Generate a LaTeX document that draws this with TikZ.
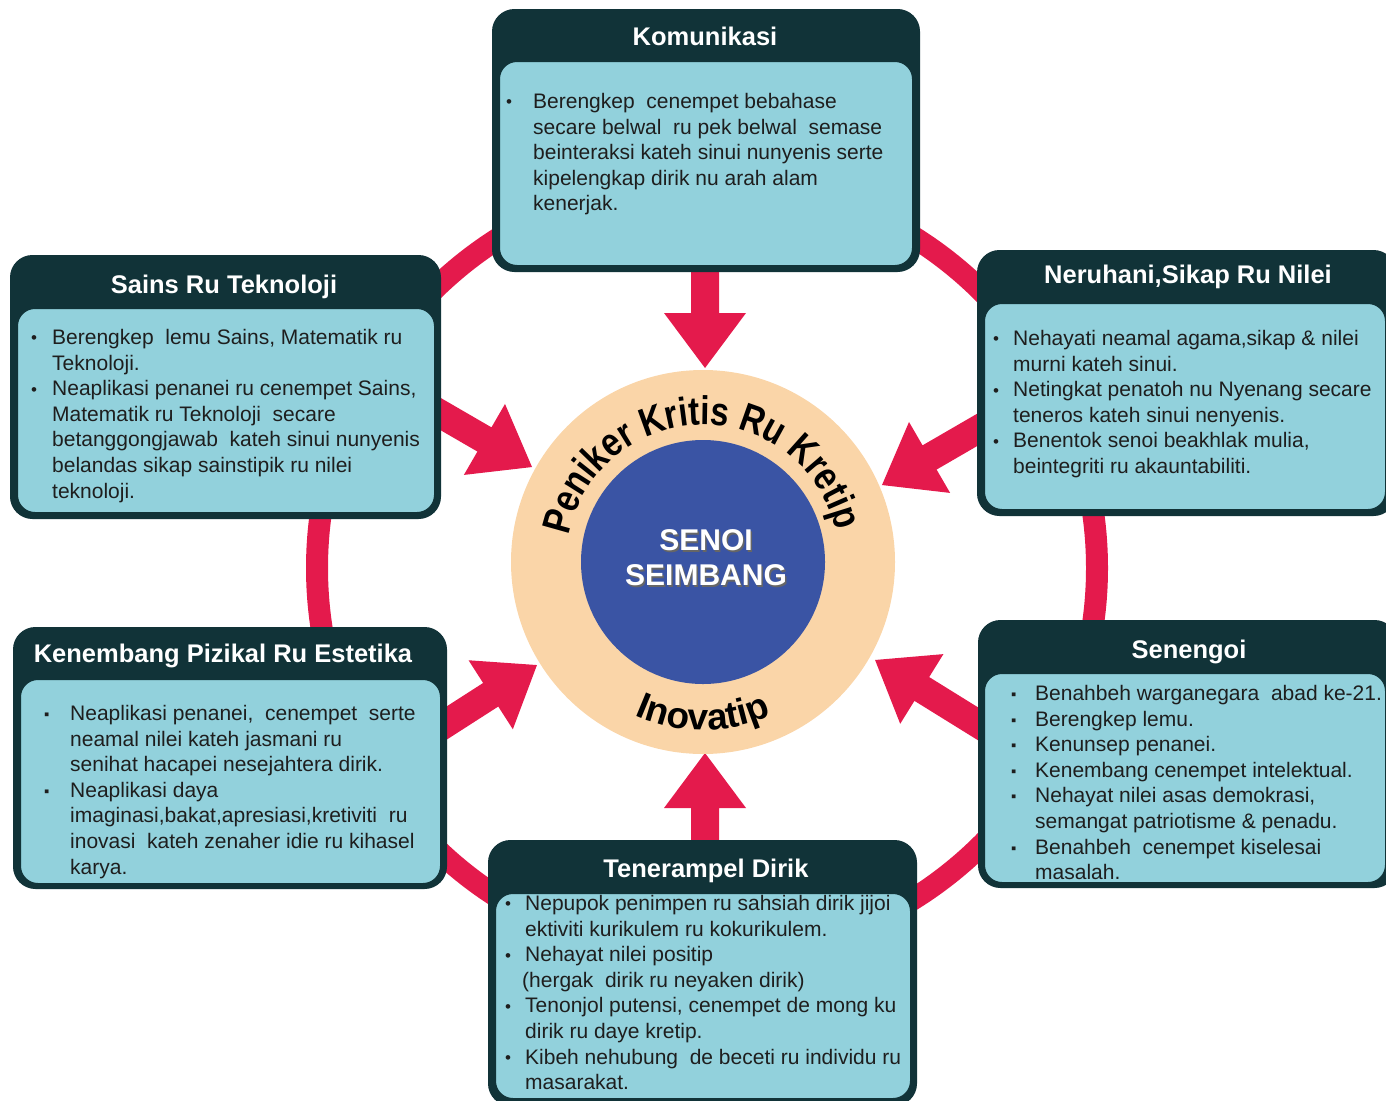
\documentclass[tikz,border=0pt]{standalone}
\usepackage{fontspec}
\setmainfont{Liberation Sans}
\newfontfamily\arcfont[FakeStretch=0.83]{Liberation Sans}
\usetikzlibrary{decorations.text}
\definecolor{dk}{RGB}{17,51,56}
\definecolor{cy}{RGB}{146,209,220}
\definecolor{arrowred}{RGB}{228,26,76}
\definecolor{peach}{RGB}{250,213,168}
\definecolor{coreblue}{RGB}{58,84,164}
\definecolor{txt}{RGB}{30,30,30}
\newcommand{\bdot}[1]{\makebox[#1][l]{\raisebox{0.5pt}{\fontsize{17}{17}\selectfont •}}}
\newcommand{\bsq}[1]{\makebox[#1][l]{\raisebox{1pt}{\fontsize{15}{15}\selectfont ▪}}}
\newcommand{\ind}[1]{\hspace*{#1}}
\tikzset{
  outerbox/.style={draw=dk, fill=dk, rounded corners=22pt, inner sep=0pt, line width=1pt, anchor=north west},
  innerbox/.style={draw=dk, fill=cy, rounded corners=18pt, line width=2pt, inner sep=0pt, anchor=north west},
  head/.style={text=white, font=\fontsize{25.5}{28}\selectfont\bfseries, inner sep=0pt, anchor=base},
  body/.style={text=txt, font=\fontsize{21}{25.6}\selectfont, align=left, inner sep=0pt, anchor=north west},
  pics/barrow/.style={code={\fill[arrowred] (0,-14) -- ({#1-55},-14) -- ({#1-55},-41) -- (#1,0) -- ({#1-55},41) -- ({#1-55},14) -- (0,14) -- cycle;}}
}
\begin{document}
\begin{tikzpicture}[x=1pt,y=1pt]
\useasboundingbox (0,0) rectangle (1386,-1100);
\clip (0,0) rectangle (1386,-1100);
% ring
\draw[arrowred, line width=22pt] (707,-568) circle[radius=390];
% arrows
\pic[rotate=-90] at (705,-262) {barrow=106};
\pic[rotate=90] at (705,-848) {barrow=95};
\pic[rotate=-30.1] at (425,-405) {barrow=123.7};
\pic[rotate=210.1] at (989,-423) {barrow=123.7};
\pic[rotate=32.7] at (428,-735) {barrow=129.5};
\pic[rotate=148.2] at (988,-730) {barrow=132.9};
% centre
\node[circle, fill=peach, minimum size=384pt, inner sep=0pt] (ring) at (703,-562) {};
\node[circle, fill=coreblue, minimum size=244pt, inner sep=0pt] (core) at (703,-562) {};
\node[align=center, text=black!60, font=\fontsize{30}{35}\selectfont\bfseries] at (707.5,-559.5) {SENOI\\SEIMBANG};
\node[align=center, text=white, font=\fontsize{30}{35}\selectfont\bfseries] (coretext) at (706,-558) {SENOI\\SEIMBANG};
\path[decorate, decoration={text along path, text align=center, text={|\arcfont\bfseries\fontsize{40}{40}\selectfont\color{black}|Peniker Kritis Ru Kretip}}] (703,-562) ++(184:137) arc[start angle=184, end angle=-2, radius=137];
\path[decorate, decoration={text along path, text align=center, text={|\bfseries\fontsize{37}{37}\selectfont\color{black}|Inovatip}}] (703,-562) ++(200:168) arc[start angle=200, end angle=340, radius=168];
% Komunikasi
\node[outerbox, minimum width=427pt, minimum height=262pt] (kom) at (492,-9) {};
\node[innerbox, minimum width=414pt, minimum height=205pt] (komi) at (498,-60) {};
\node[head] at (705,-45) {Komunikasi};
\node[body] at (506,-93) {\bdot{27pt}Berengkep \ cenempet bebahase\\
\ind{27pt}secare belwal \ ru pek belwal \ semase\\
\ind{27pt}beinteraksi kateh sinui nunyenis serte\\
\ind{27pt}kipelengkap dirik nu arah alam\\
\ind{27pt}kenerjak.};
% Sains
\node[outerbox, minimum width=430pt, minimum height=263pt] (sains) at (10,-255) {};
\node[innerbox, minimum width=418pt, minimum height=205pt] (sainsi) at (16,-307) {};
\node[head] at (224,-293) {Sains Ru Teknoloji};
\node[body] at (31,-329) {\bdot{21pt}Berengkep \ lemu Sains, Matematik ru\\
\ind{21pt}Teknoloji.\\
\bdot{21pt}Neaplikasi penanei ru cenempet Sains,\\
\ind{21pt}Matematik ru Teknoloji \ secare\\
\ind{21pt}betanggongjawab \ kateh sinui nunyenis\\
\ind{21pt}belandas sikap sainstipik ru nilei\\
\ind{21pt}teknoloji.};
% Neruhani
\node[outerbox, minimum width=418pt, minimum height=265pt] (neru) at (977,-250) {};
\node[innerbox, minimum width=402pt, minimum height=207pt] (nerui) at (983,-302) {};
\node[head] at (1188,-283) {Neruhani,Sikap Ru Nilei};
\node[body] at (993,-330) {\bdot{20pt}Nehayati neamal agama,sikap \& nilei\\
\ind{20pt}murni kateh sinui.\\
\bdot{20pt}Netingkat penatoh nu Nyenang secare\\
\ind{20pt}teneros kateh sinui nenyenis.\\
\bdot{20pt}Benentok senoi beakhlak mulia,\\
\ind{20pt}beintegriti ru akauntabiliti.};
% Kenembang
\node[outerbox, minimum width=433pt, minimum height=261pt] (ken) at (13,-627) {};
\node[innerbox, minimum width=421pt, minimum height=205pt] (keni) at (19,-678) {};
\node[head] at (223,-662) {Kenembang Pizikal Ru Estetika};
\node[body] at (44,-705) {\bsq{26pt}Neaplikasi penanei, \ cenempet \ serte\\
\ind{26pt}neamal nilei kateh jasmani ru\\
\ind{26pt}senihat hacapei nesejahtera dirik.\\
\bsq{26pt}Neaplikasi daya\\
\ind{26pt}imaginasi,bakat,apresiasi,kretiviti \ ru\\
\ind{26pt}inovasi \ kateh zenaher idie ru kihasel\\
\ind{26pt}karya.};
% Senengoi
\node[outerbox, minimum width=418pt, minimum height=267pt] (sen) at (978,-620) {};
\node[innerbox, minimum width=402pt, minimum height=210pt] (seni) at (983,-672) {};
\node[head] at (1189,-658) {Senengoi};
\node[body] at (1011,-685) {\bsq{24pt}Benahbeh warganegara \ abad ke-21.\\
\bsq{24pt}Berengkep lemu.\\
\bsq{24pt}Kenunsep penanei.\\
\bsq{24pt}Kenembang cenempet intelektual.\\
\bsq{24pt}Nehayat nilei asas demokrasi,\\
\ind{24pt}semangat patriotisme \& penadu.\\
\bsq{24pt}Benahbeh \ cenempet kiselesai\\
\ind{24pt}masalah.};
% Tenerampel
\node[outerbox, minimum width=428pt, minimum height=265pt] (ten) at (488,-840) {};
\node[innerbox, minimum width=416pt, minimum height=206pt] (teni) at (494,-892) {};
\node[head] at (706,-877) {Tenerampel Dirik};
\node[body] at (505,-895) {\bdot{20pt}Nepupok penimpen ru sahsiah dirik jijoi\\
\ind{20pt}ektiviti kurikulem ru kokurikulem.\\
\bdot{20pt}Nehayat nilei positip\\
\ind{17pt}(hergak \ dirik ru neyaken dirik)\\
\bdot{20pt}Tenonjol putensi, cenempet de mong ku\\
\ind{20pt}dirik ru daye kretip.\\
\bdot{20pt}Kibeh nehubung \ de beceti ru individu ru\\
\ind{20pt}masarakat.};
\end{tikzpicture}
\end{document}
